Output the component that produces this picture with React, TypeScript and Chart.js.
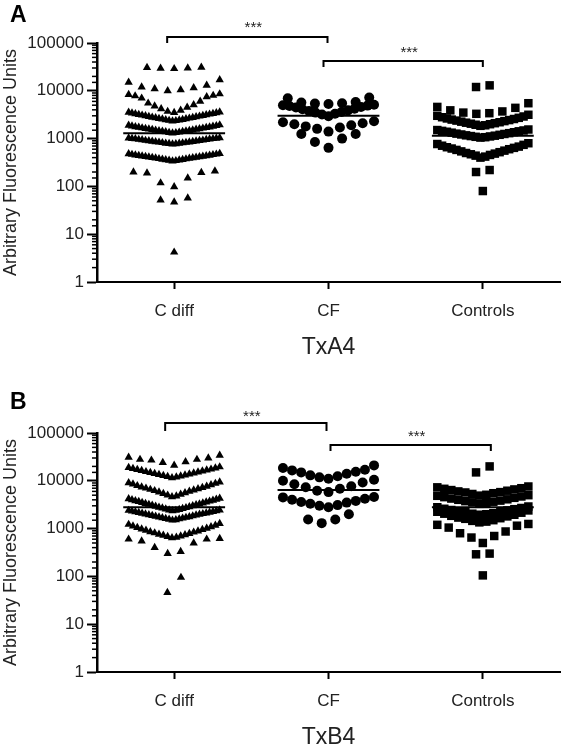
import React, { useEffect, useRef } from 'react';
import { Chart, registerables } from 'chart.js';

Chart.register(...registerables);

// ---------- data ----------
const categories = ['C diff', 'CF', 'Controls'];
const yMin = 1;
const yMax = 100000;
const significance = ['***', '***'];

// Panel A (TxA4): values read row by row (each row is one horizontal swarm band)
const cdiffA: number[][] = [
  [30000, 29000, 31000, 29500, 30500],
  [10000, 10500, 11000, 11500, 12000, 13000, 15000, 17000],
  [3500, 3700, 3900, 4200, 4500, 4800, 5100, 5500, 6000, 7000, 7500, 7800, 8000, 8300, 8600],
  [2330, 2370, 2400, 2440, 2470, 2510, 2550, 2590, 2630, 2670, 2710, 2760, 2800, 2850, 2890, 2940, 2990, 3040, 3090, 3140, 3190, 3240, 3300, 3350, 3410, 3470, 3530, 3600],
  [1310, 1330, 1340, 1360, 1380, 1400, 1420, 1430, 1450, 1470, 1490, 1510, 1540, 1560, 1580, 1600, 1620, 1650, 1670, 1700, 1720, 1740, 1770, 1800, 1830, 1860, 1890, 1930],
  [770, 780, 785, 795, 800, 810, 820, 830, 840, 845, 855, 865, 875, 885, 895, 905, 915, 925, 940, 950, 960, 975, 985, 995, 1005, 1015, 1025, 1040],
  [340, 345, 350, 355, 360, 365, 370, 375, 380, 385, 390, 395, 400, 405, 410, 415, 420, 425, 430, 436, 442, 448, 454, 460, 466, 472, 478, 485],
  [210, 200, 195, 190, 150, 118, 98],
  [57, 52, 47],
  [4.2],
];
const cfA: number[][] = [
  [7000, 5800, 5500, 5300, 5400, 5700, 7200],
  [5000, 4800, 4600, 4200, 3900, 3600, 3300, 2950, 3200, 3500, 3800, 4100, 4500, 4900, 5100],
  [2300, 2100, 1900, 1700, 1400, 1600, 1800, 2000, 2200],
  [1250, 1250, 1000, 850, 640],
];
const controlsA: number[][] = [
  [12000, 13000],
  [5500, 4600, 4400, 3900, 3700, 3500, 3400, 3300],
  [1850, 1900, 1950, 2000, 2050, 2100, 2150, 2200, 2260, 2320, 2380, 2440, 2500, 2570, 2640, 2720, 2800, 2900, 3000, 3150],
  [1050, 1070, 1090, 1110, 1130, 1150, 1170, 1200, 1220, 1250, 1270, 1300, 1330, 1360, 1390, 1420, 1450, 1480, 1510, 1550],
  [400, 420, 440, 455, 470, 485, 500, 520, 540, 560, 580, 600, 620, 640, 660, 680, 710, 740, 770, 800],
  [220, 200],
  [80],
];
const mediansA = [1300, 3000, 1150];

// Panel B (TxB4)
const cdiffB: number[][] = [
  [21000, 24000, 25000, 27000, 28000, 28000, 30000, 31000, 34000],
  [11500, 12000, 12300, 12600, 12900, 13200, 13500, 13800, 14100, 14500, 14800, 15200, 15500, 15900, 16300, 16700, 17100, 17500, 18000, 18500, 19000, 19500],
  [4600, 4800, 5000, 5200, 5400, 5600, 5800, 6000, 6200, 6400, 6600, 6800, 7000, 7200, 7400, 7700, 7900, 8200, 8500, 8800, 9100, 9400],
  [2350, 2400, 2450, 2500, 2560, 2620, 2680, 2740, 2800, 2860, 2920, 2990, 3060, 3130, 3200, 3270, 3340, 3420, 3500, 3580, 3660, 3740, 3820, 3900, 3990, 4080, 4180, 4300],
  [1500, 1530, 1560, 1590, 1620, 1650, 1680, 1710, 1740, 1770, 1800, 1840, 1870, 1910, 1940, 1980, 2010, 2050, 2090, 2120, 2160, 2200, 2240, 2280, 2320, 2360, 2400, 2450],
  [640, 660, 680, 700, 720, 740, 760, 790, 810, 840, 860, 890, 920, 950, 980, 1010, 1050, 1090, 1130, 1170, 1220, 1280],
  [300, 330, 400, 500, 550, 600, 600, 620],
  [46, 95],
];
const cfB: number[][] = [
  [11000, 11800, 12500, 13000, 14000, 15000, 15500, 16500, 17000, 18500, 21000],
  [5800, 6200, 6800, 7300, 7700, 8500, 9200, 10000, 10500],
  [2800, 3000, 3100, 3300, 3500, 3600, 3800, 4000, 4200, 4500, 4600],
  [1300, 1550, 1550, 2000],
];
const controlsB: number[][] = [
  [15000, 20000],
  [4900, 5100, 5300, 5500, 5700, 5800, 6000, 6200, 6400, 6600, 6800, 7000, 7300, 7600],
  [3300, 3400, 3550, 3650, 3750, 3850, 4000, 4100, 4250, 4400, 4550, 4700, 4850, 5000],
  [1950, 2000, 2050, 2100, 2200, 2250, 2300, 2400, 2450, 2550, 2600, 2700, 2800, 2900],
  [1350, 1400, 1450, 1500, 1600, 1650, 1700, 1800, 1850, 1950, 2050, 2150, 2250, 2400],
  [1200, 1050, 800, 650, 500, 700, 870, 1150, 1250],
  [300, 290],
  [105],
];
const mediansB = [2800, 6400, 2800];

// ---------- helpers ----------
const FONT = "'Liberation Sans', Arial, Helvetica, sans-serif";
const TEXT = '#222';

const isMajor = (v: number) => {
  if (!(v > 0)) return false;
  const l = Math.log10(v);
  return Math.abs(l - Math.round(l)) < 1e-6;
};

// Prism-like row swarm: lowest values sit in the middle of each row
function swarm(rows: number[][], center: number, maxStep: number, halfWidth: number) {
  const pts: { x: number; y: number }[] = [];
  rows.forEach((row) => {
    const vals = [...row].sort((a, b) => a - b);
    const n = vals.length;
    const step = n > 1 ? Math.min(maxStep, (2 * halfWidth) / (n - 1)) : 0;
    const slots = vals.map((_, j) => (j - (n - 1) / 2) * step);
    const order = slots
      .map((_, j) => j)
      .sort((a, b) => Math.abs(slots[a]) - Math.abs(slots[b]) || slots[a] - slots[b]);
    vals.forEach((v, k) => pts.push({ x: center + slots[order[k]], y: v }));
  });
  return pts;
}

const decorPlugin = {
  id: 'decor',
  afterDraw(chart: any, _args: any, opts: any) {
    const { ctx } = chart;
    const xs = chart.scales.x;
    const ys = chart.scales.y;
    ctx.save();
    // minor log ticks
    ctx.strokeStyle = '#000';
    ctx.lineWidth = 1.5;
    ys.ticks.forEach((t: any) => {
      if (isMajor(t.value)) return;
      const py = ys.getPixelForValue(t.value);
      ctx.beginPath();
      ctx.moveTo(ys.right, py);
      ctx.lineTo(ys.right - 5, py);
      ctx.stroke();
    });
    // significance brackets
    ctx.lineWidth = 2;
    (opts.brackets || []).forEach((b: any, i: number) => {
      const x1 = xs.getPixelForValue(b.from) + b.dx1;
      const x2 = xs.getPixelForValue(b.to) + b.dx2;
      ctx.beginPath();
      ctx.moveTo(x1, b.y + b.drop);
      ctx.lineTo(x1, b.y);
      ctx.lineTo(x2, b.y);
      ctx.lineTo(x2, b.y + b.drop);
      ctx.stroke();
      ctx.fillStyle = TEXT;
      ctx.font = `15px ${FONT}`;
      ctx.textAlign = 'center';
      ctx.textBaseline = 'alphabetic';
      ctx.fillText(significance[i], (x1 + x2) / 2 + 6, b.starY + 9);
    });
    // panel letter
    ctx.fillStyle = '#000';
    ctx.font = `bold 23px ${FONT}`;
    ctx.textAlign = 'left';
    ctx.textBaseline = 'alphabetic';
    ctx.fillText(opts.letter, 10, opts.letterY);
    ctx.restore();
  },
};

interface PanelProps {
  groups: number[][][];
  medians: number[];
  title: string;
  letter: string;
  letterY: number;
  brackets: any[];
  top: number;
}

const W = 566;
const H = 361;

function Panel({ groups, medians, title, letter, letterY, brackets, top }: PanelProps) {
  const ref = useRef<HTMLCanvasElement>(null);
  useEffect(() => {
    if (!ref.current) return;
    const styles = [
      { pointStyle: 'triangle', radius: 4.8 },
      { pointStyle: 'circle', radius: 5 },
      { pointStyle: 'rect', radius: 6 },
    ];
    const medianSets = medians.map((m, i) => ({
      type: 'scatter' as const,
      data: [
        { x: i - 0.33, y: m },
        { x: i + 0.33, y: m },
      ],
      showLine: true,
      borderColor: '#000',
      borderWidth: 2,
      pointRadius: 0,
      clip: false as any,
    }));
    const pointSets = groups.map((rows, i) => ({
      type: 'scatter' as const,
      data: swarm(rows, i, 0.088, 0.295),
      pointStyle: styles[i].pointStyle as any,
      pointRadius: styles[i].radius,
      pointBackgroundColor: '#000',
      pointBorderColor: '#000',
      pointBorderWidth: 0,
      showLine: false,
      clip: false as any,
    }));
    const chart = new Chart(ref.current, {
      type: 'scatter',
      data: { datasets: [...medianSets, ...pointSets] as any },
      options: {
        responsive: false,
        animation: false,
        events: [],
        layout: { padding: { top: 43, right: 3, left: 0, bottom: 0 } },
        plugins: {
          legend: { display: false },
          tooltip: { enabled: false },
          decor: { brackets, letter, letterY },
        } as any,
        scales: {
          x: {
            type: 'linear',
            min: -0.5,
            max: 2.5,
            afterBuildTicks: (s: any) => {
              s.ticks = categories.map((_, i) => ({ value: i }));
            },
            afterFit: (s: any) => {
              s.height = H - 282;
            },
            border: { display: true, color: '#000', width: 2 },
            grid: {
              display: true,
              drawOnChartArea: false,
              drawTicks: true,
              tickLength: 7,
              tickWidth: 2,
              tickColor: '#000',
            },
            ticks: {
              color: TEXT,
              font: { size: 17, family: FONT },
              padding: 12,
              autoSkip: false,
              maxRotation: 0,
              callback: (v: any) => categories[Math.round(Number(v))] ?? '',
            },
            title: {
              display: true,
              text: title,
              color: TEXT,
              font: { size: 23, family: FONT },
              padding: { top: 0, bottom: 0 },
            },
          },
          y: {
            type: 'logarithmic',
            min: yMin,
            max: yMax,
            afterFit: (s: any) => {
              s.width = 97;
            },
            border: { display: true, color: '#000', width: 2.5 },
            grid: {
              display: true,
              drawOnChartArea: false,
              drawTicks: true,
              tickLength: 10,
              tickWidth: 2,
              tickColor: (c: any) => (c.tick && isMajor(c.tick.value) ? '#000' : 'rgba(0,0,0,0)'),
            },
            ticks: {
              autoSkip: false,
              padding: 3,
              color: TEXT,
              font: { size: 17, family: FONT },
              callback: (v: any) => (isMajor(Number(v)) ? String(Math.round(Number(v))) : ''),
            },
            title: {
              display: true,
              text: 'Arbitrary Fluorescence Units',
              color: TEXT,
              font: { size: 18, family: FONT },
              padding: { top: 0, bottom: 0 },
            },
          },
        },
      } as any,
      plugins: [decorPlugin],
    });
    return () => chart.destroy();
  }, [groups, medians, title, letter, letterY, brackets]);
  return (
    <canvas
      ref={ref}
      width={W}
      height={H}
      style={{ position: 'absolute', left: 0, top, width: W, height: H }}
    />
  );
}

const bracketsA = [
  { from: 0, to: 1, y: 37, drop: 6, starY: 23, dx1: -7, dx2: -1 },
  { from: 1, to: 2, y: 61, drop: 6, starY: 48, dx1: -5, dx2: 0 },
];
const bracketsB = [
  { from: 0, to: 1, y: 33, drop: 8, starY: 22, dx1: -9, dx2: -2 },
  { from: 1, to: 2, y: 55, drop: 6, starY: 42, dx1: 2, dx2: 8 },
];
const groupsA = [cdiffA, cfA, controlsA];
const groupsB = [cdiffB, cfB, controlsB];

export default function App() {
  return (
    <div style={{ position: 'absolute', left: 0, top: 0, width: W, height: 747, background: '#fff' }}>
      <Panel groups={groupsA} medians={mediansA} title="TxA4" letter="A" letterY={22} brackets={bracketsA} top={0} />
      <Panel groups={groupsB} medians={mediansB} title="TxB4" letter="B" letterY={19} brackets={bracketsB} top={390} />
    </div>
  );
}
